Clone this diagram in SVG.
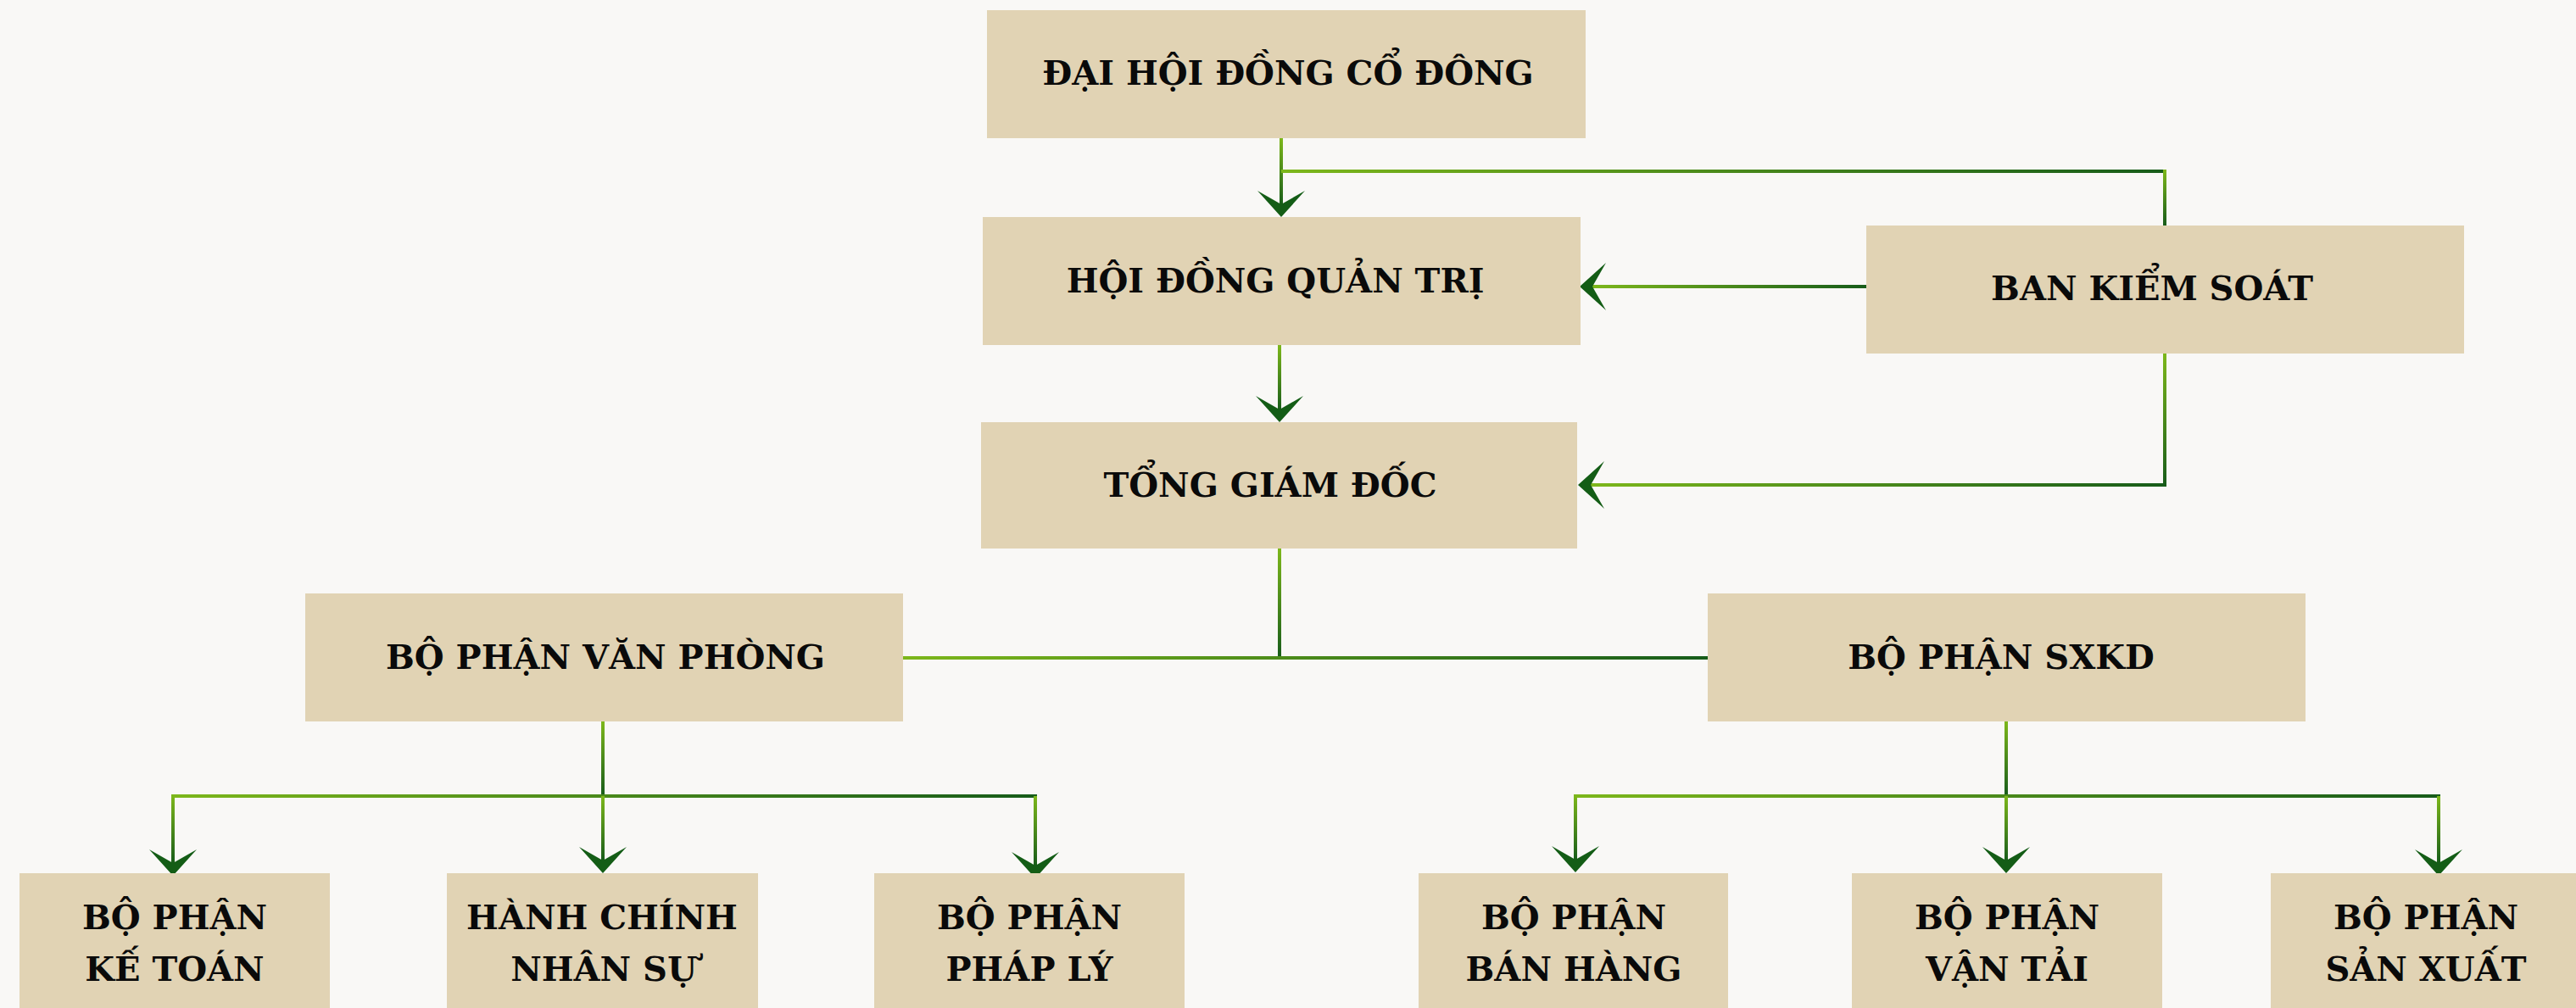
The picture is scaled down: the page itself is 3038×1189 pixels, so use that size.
<svg xmlns="http://www.w3.org/2000/svg" xmlns:xlink="http://www.w3.org/1999/xlink" width="3038" height="1189" viewBox="0 0 3038 1189">
<style>
.box{fill:#e1d3b4}
.t{font-family:"DejaVu Serif","Liberation Serif",serif;font-weight:bold;font-size:40px;fill:#0a0a0a;text-anchor:middle}
.h{fill:url(#gh)}
.v{fill:url(#gv)}
.ar{fill:#145d16}
</style>
<defs>
<linearGradient id="gh" x1="0" y1="0" x2="1" y2="0">
<stop offset="0" stop-color="#7db71b"/>
<stop offset="1" stop-color="#175c1a"/>
</linearGradient>
<linearGradient id="gv" x1="0" y1="0" x2="0" y2="1">
<stop offset="0" stop-color="#7db71b"/>
<stop offset="1" stop-color="#175c1a"/>
</linearGradient>
<path id="arr" d="M0,0 L-28,-31 L0,-15 L28,-31 Z"/>
</defs>
<rect width="3038" height="1189" fill="#f9f8f6"/>

<g id="connectors">
<!-- DHDCD -> HDQT -->
<rect class="v" x="1509" y="163" width="4" height="80"/>
<use href="#arr" class="ar" transform="translate(1511,256)"/>
<!-- DHDCD - BKS -->
<rect class="h" x="1511" y="200" width="1044" height="4"/>
<rect class="v" x="2551" y="200" width="4" height="66"/>
<!-- BKS -> HDQT -->
<rect class="h" x="1877" y="336" width="324" height="4"/>
<use href="#arr" class="ar" transform="translate(1863,338) rotate(90)"/>
<!-- BKS -> TGD -->
<rect class="v" x="2551" y="417" width="4" height="157"/>
<rect class="h" x="1875" y="570" width="680" height="4"/>
<use href="#arr" class="ar" transform="translate(1861,572) rotate(90)"/>
<!-- HDQT -> TGD -->
<rect class="v" x="1507" y="407" width="4" height="78"/>
<use href="#arr" class="ar" transform="translate(1509,498)"/>
<!-- TGD -> departments -->
<rect class="v" x="1507" y="647" width="4" height="129"/>
<rect class="h" x="1064" y="774" width="950" height="4"/>
<!-- BPVP -> children -->
<rect class="v" x="709" y="851" width="4" height="88"/>
<rect class="h" x="202" y="937" width="1021" height="4"/>
<rect class="v" x="202" y="939" width="4" height="80"/>
<use href="#arr" class="ar" transform="translate(204,1033)"/>
<rect class="v" x="709" y="939" width="4" height="77"/>
<use href="#arr" class="ar" transform="translate(711,1030)"/>
<rect class="v" x="1219" y="939" width="4" height="83"/>
<use href="#arr" class="ar" transform="translate(1221,1036)"/>
<!-- BPSXKD -> children -->
<rect class="v" x="2364" y="851" width="4" height="88"/>
<rect class="h" x="1856" y="937" width="1022" height="4"/>
<rect class="v" x="1856" y="939" width="4" height="76"/>
<use href="#arr" class="ar" transform="translate(1858,1029)"/>
<rect class="v" x="2364" y="939" width="4" height="77"/>
<use href="#arr" class="ar" transform="translate(2366,1030)"/>
<rect class="v" x="2874" y="939" width="4" height="80"/>
<use href="#arr" class="ar" transform="translate(2876,1033)"/>
</g>

<g id="n-dhdcd"><rect class="box" x="1164" y="12" width="706" height="151"/><text class="t" x="1519" y="100">ĐẠI HỘI ĐỒNG CỔ ĐÔNG</text></g>
<g id="n-hdqt"><rect class="box" x="1159" y="256" width="705" height="151"/><text class="t" x="1504" y="345">HỘI ĐỒNG QUẢN TRỊ</text></g>
<g id="n-bks"><rect class="box" x="2201" y="266" width="705" height="151"/><text class="t" x="2538" y="354">BAN KIỂM SOÁT</text></g>
<g id="n-tgd"><rect class="box" x="1157" y="498" width="703" height="149"/><text class="t" x="1498" y="586">TỔNG GIÁM ĐỐC</text></g>
<g id="n-bpvp"><rect class="box" x="360" y="700" width="705" height="151"/><text class="t" x="714" y="789">BỘ PHẬN VĂN PHÒNG</text></g>
<g id="n-sxkd"><rect class="box" x="2014" y="700" width="705" height="151"/><text class="t" x="2360" y="789">BỘ PHẬN SXKD</text></g>
<g id="n-kt"><rect class="box" x="23" y="1030" width="366" height="170"/><text class="t" x="206" y="1096">BỘ PHẬN</text><text class="t" x="206" y="1157">KẾ TOÁN</text></g>
<g id="n-hcns"><rect class="box" x="527" y="1030" width="367" height="170"/><text class="t" x="710" y="1096">HÀNH CHÍNH</text><text class="t" x="712" y="1157">NHÂN SỰ</text></g>
<g id="n-pl"><rect class="box" x="1031" y="1030" width="366" height="170"/><text class="t" x="1214" y="1096">BỘ PHẬN</text><text class="t" x="1214" y="1157">PHÁP LÝ</text></g>
<g id="n-bh"><rect class="box" x="1673" y="1030" width="365" height="170"/><text class="t" x="1856" y="1096">BỘ PHẬN</text><text class="t" x="1856" y="1157">BÁN HÀNG</text></g>
<g id="n-vt"><rect class="box" x="2184" y="1030" width="366" height="170"/><text class="t" x="2367" y="1096">BỘ PHẬN</text><text class="t" x="2367" y="1157">VẬN TẢI</text></g>
<g id="n-sx"><rect class="box" x="2678" y="1030" width="366" height="170"/><text class="t" x="2861" y="1096">BỘ PHẬN</text><text class="t" x="2861" y="1157">SẢN XUẤT</text></g>
</svg>
